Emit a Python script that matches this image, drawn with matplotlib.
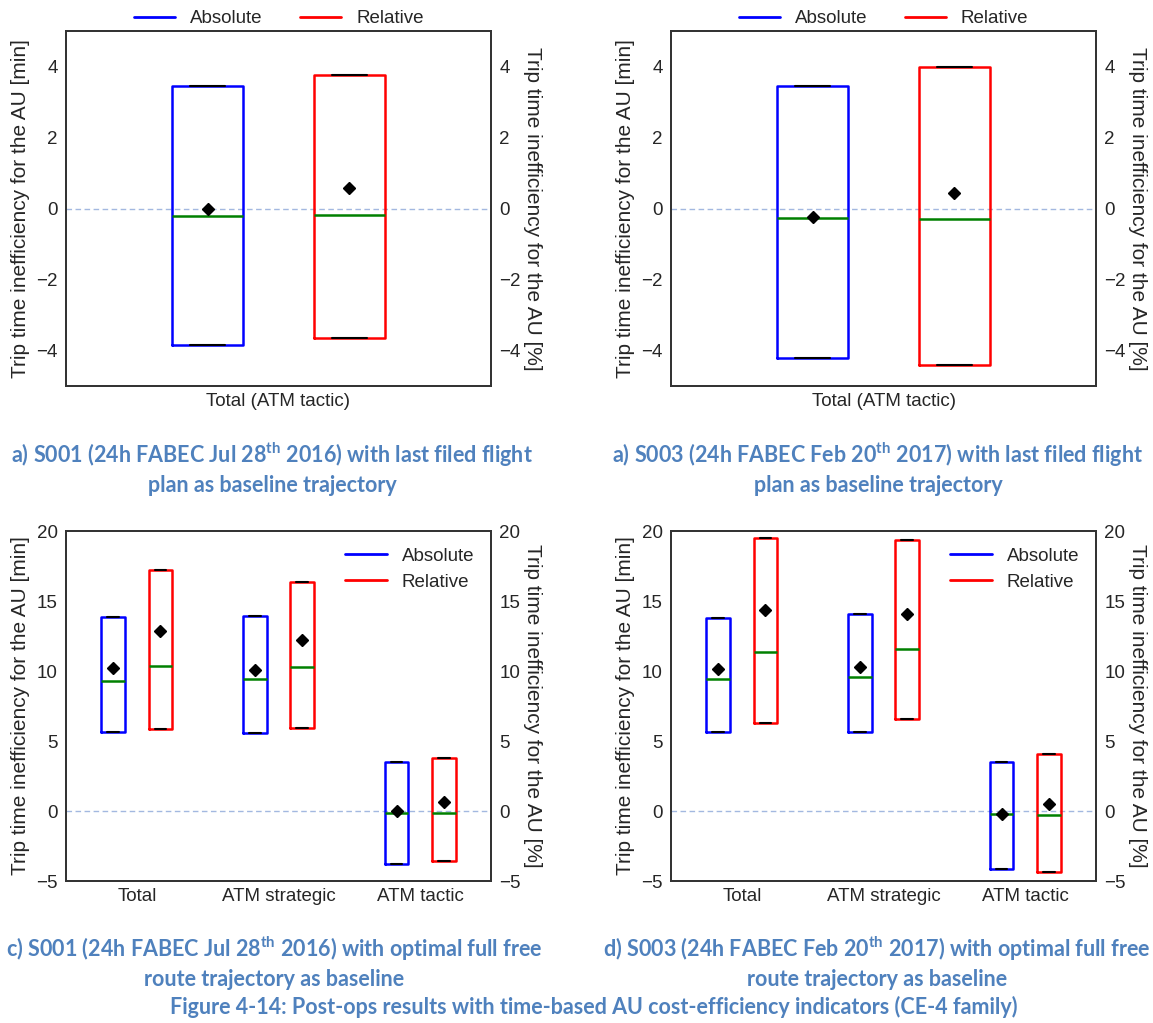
import matplotlib

matplotlib.use("Agg")

import matplotlib.pyplot as plt
import numpy as np
from matplotlib.lines import Line2D


TOP_CATEGORIES = ["Total (ATM tactic)"]
BOTTOM_CATEGORIES = ["Total", "ATM strategic", "ATM tactic"]

# a) S001, last filed flight plan baseline
A_ABS_Q1 = [-3.84]
A_ABS_Q3 = [3.46]
A_ABS_MED = [-0.20]
A_ABS_MEAN = [0.00]
A_REL_Q1 = [-3.65]
A_REL_Q3 = [3.75]
A_REL_MED = [-0.19]
A_REL_MEAN = [0.58]

# a) S003, last filed flight plan baseline
B_ABS_Q1 = [-4.20]
B_ABS_Q3 = [3.46]
B_ABS_MED = [-0.28]
B_ABS_MEAN = [-0.24]
B_REL_Q1 = [-4.40]
B_REL_Q3 = [4.00]
B_REL_MED = [-0.29]
B_REL_MEAN = [0.44]

# c) S001, optimal full free route baseline
C_ABS_Q1 = [5.66, 5.56, -3.80]
C_ABS_Q3 = [13.88, 13.95, 3.49]
C_ABS_MED = [9.31, 9.40, -0.15]
C_ABS_MEAN = [10.25, 10.08, 0.02]
C_REL_Q1 = [5.86, 5.95, -3.57]
C_REL_Q3 = [17.20, 16.35, 3.80]
C_REL_MED = [10.38, 10.28, -0.14]
C_REL_MEAN = [12.86, 12.24, 0.63]

# d) S003, optimal full free route baseline
D_ABS_Q1 = [5.64, 5.64, -4.17]
D_ABS_Q3 = [13.78, 14.09, 3.49]
D_ABS_MED = [9.43, 9.60, -0.23]
D_ABS_MEAN = [10.17, 10.32, -0.20]
D_REL_Q1 = [6.30, 6.59, -4.36]
D_REL_Q3 = [19.53, 19.34, 4.04]
D_REL_MED = [11.39, 11.58, -0.25]
D_REL_MEAN = [14.33, 14.06, 0.51]

TOP_YTICKS = [-4, -2, 0, 2, 4]
BOTTOM_YTICKS = [-5, 0, 5, 10, 15, 20]

LEFT_LABEL = "Trip time inefficiency for the AU [min]"
RIGHT_LABEL = "Trip time inefficiency for the AU [%]"

CAPTIONS = [
    ("a) S001 (24h FABEC Jul 28$^{\\mathbf{th}}$ 2016) with last filed flight", "plan as baseline trajectory"),
    ("a) S003 (24h FABEC Feb 20$^{\\mathbf{th}}$ 2017) with last filed flight", "plan as baseline trajectory"),
    ("c) S001 (24h FABEC Jul 28$^{\\mathbf{th}}$ 2016) with optimal full free", "route trajectory as baseline"),
    ("d) S003 (24h FABEC Feb 20$^{\\mathbf{th}}$ 2017) with optimal full free", "route trajectory as baseline"),
]
FIGURE_CAPTION = "Figure 4-14: Post-ops results with time-based AU cost-efficiency indicators (CE-4 family)"

ABS_COLOR = "#0000ff"
REL_COLOR = "#ff0000"
MEDIAN_COLOR = "#008000"
CAPTION_COLOR = "#4f81bd"
TEXT_COLOR = "#262626"
CAPTION_FONT = ["Lato", "DejaVu Sans"]

TICK_SIZE = 13.5
LABEL_SIZE = 15
CAPTION_SIZE = 15.5
FIG_W, FIG_H = 1153, 1023


def _configure_matplotlib():
    plt.style.use("seaborn-v0_8-white")
    matplotlib.rcParams.update(
        {
            "font.family": ["Liberation Sans", "DejaVu Sans"],
            "font.size": TICK_SIZE,
            "text.color": TEXT_COLOR,
            "axes.edgecolor": "#333333",
            "axes.linewidth": 1.3,
            "xtick.color": TEXT_COLOR,
            "ytick.color": TEXT_COLOR,
            "xtick.labelsize": TICK_SIZE,
            "ytick.labelsize": TICK_SIZE,
            "xtick.major.size": 0,
            "ytick.major.size": 0,
            "mathtext.fontset": "custom",
            "mathtext.rm": "Lato:bold",
            "mathtext.bf": "Lato:bold",
        }
    )


def _stats(q1, q3, med, mean):
    return [
        {"q1": a, "q3": b, "med": m, "mean": mu, "whislo": a, "whishi": b, "fliers": []}
        for a, b, m, mu in zip(q1, q3, med, mean)
    ]


def _draw_boxes(ax, stats, positions, color):
    lw = 1.8
    ax.bxp(
        stats,
        positions=positions,
        widths=1 / 6,
        showmeans=True,
        showfliers=False,
        manage_ticks=False,
        boxprops={"color": color, "linewidth": lw},
        whiskerprops={"color": color, "linewidth": lw},
        capprops={"color": "black", "linewidth": 1.5},
        medianprops={"color": MEDIAN_COLOR, "linewidth": lw},
        meanprops={"marker": "D", "markerfacecolor": "black", "markeredgecolor": "black", "markersize": 6.5},
    )


def _draw_panel(rect, categories, abs_stats, rel_stats, ylim, yticks, legend_above):
    fig = plt.gcf()
    ax = fig.add_axes(rect)
    ax2 = ax.twinx()
    x = np.arange(len(categories))

    ax.axhline(0, color="#a3b8e0", linestyle="--", linewidth=1.0, dashes=(4, 2.5), zorder=0)
    _draw_boxes(ax, abs_stats, x - 1 / 6, ABS_COLOR)
    _draw_boxes(ax2, rel_stats, x + 1 / 6, REL_COLOR)

    for a in (ax, ax2):
        a.set_xlim(-0.5, len(categories) - 0.5)
        a.set_ylim(*ylim)
        a.set_yticks(yticks)
        a.tick_params(axis="y", pad=6)
    ax.set_xticks(x, categories)
    ax.tick_params(axis="x", pad=5)

    ax.set_ylabel(LEFT_LABEL, fontsize=LABEL_SIZE)
    ax.yaxis.set_label_coords(-0.106, 0.5)
    ax.yaxis.label.set_verticalalignment("center")
    ax2.set_ylabel(RIGHT_LABEL, rotation=270, fontsize=LABEL_SIZE)
    ax2.yaxis.set_label_coords(1.097, 0.5)
    ax2.yaxis.label.set_verticalalignment("center")

    handles = [
        Line2D([], [], color=ABS_COLOR, linewidth=2),
        Line2D([], [], color=REL_COLOR, linewidth=2),
    ]
    if legend_above:
        ax2.legend(
            handles,
            ["Absolute", "Relative"],
            loc="center",
            bbox_to_anchor=(0.5, 1.034),
            ncol=2,
            frameon=False,
            handlelength=2.2,
            handletextpad=0.8,
            columnspacing=2.0,
            borderaxespad=0,
            borderpad=0,
        )
    else:
        ax2.legend(
            handles,
            ["Absolute", "Relative"],
            loc="upper right",
            frameon=False,
            handlelength=2.2,
            handletextpad=0.8,
            labelspacing=0.45,
        )


def main():
    _configure_matplotlib()
    fig = plt.figure(figsize=(FIG_W / 100, FIG_H / 100), dpi=100)

    w = 425 / FIG_W
    top_h = 355 / FIG_H
    bot_h = 350 / FIG_H
    left_a, left_b = 66 / FIG_W, 671 / FIG_W
    top_y = 1 - 386 / FIG_H
    bot_y = 1 - 881 / FIG_H

    _draw_panel([left_a, top_y, w, top_h], TOP_CATEGORIES,
                _stats(A_ABS_Q1, A_ABS_Q3, A_ABS_MED, A_ABS_MEAN),
                _stats(A_REL_Q1, A_REL_Q3, A_REL_MED, A_REL_MEAN),
                (-5, 5), TOP_YTICKS, True)
    _draw_panel([left_b, top_y, w, top_h], TOP_CATEGORIES,
                _stats(B_ABS_Q1, B_ABS_Q3, B_ABS_MED, B_ABS_MEAN),
                _stats(B_REL_Q1, B_REL_Q3, B_REL_MED, B_REL_MEAN),
                (-5, 5), TOP_YTICKS, True)
    _draw_panel([left_a, bot_y, w, bot_h], BOTTOM_CATEGORIES,
                _stats(C_ABS_Q1, C_ABS_Q3, C_ABS_MED, C_ABS_MEAN),
                _stats(C_REL_Q1, C_REL_Q3, C_REL_MED, C_REL_MEAN),
                (-5, 20), BOTTOM_YTICKS, False)
    _draw_panel([left_b, bot_y, w, bot_h], BOTTOM_CATEGORIES,
                _stats(D_ABS_Q1, D_ABS_Q3, D_ABS_MED, D_ABS_MEAN),
                _stats(D_REL_Q1, D_REL_Q3, D_REL_MED, D_REL_MEAN),
                (-5, 20), BOTTOM_YTICKS, False)

    caption_style = {"ha": "center", "va": "center", "fontsize": CAPTION_SIZE, "fontweight": "bold",
                     "color": CAPTION_COLOR, "family": CAPTION_FONT}
    centers = [(272, 455, 485), (878, 455, 485), (274, 949, 980), (877, 949, 980)]
    for (line1, line2), (cx, y1, y2) in zip(CAPTIONS, centers):
        fig.text(cx / FIG_W, 1 - y1 / FIG_H, line1, **caption_style)
        fig.text(cx / FIG_W, 1 - y2 / FIG_H, line2, **caption_style)
    fig.text(594 / FIG_W, 1 - 1007 / FIG_H, FIGURE_CAPTION, **caption_style)

    fig.savefig("out.png", dpi=100, facecolor="white")
    plt.close(fig)


if __name__ == "__main__":
    main()
